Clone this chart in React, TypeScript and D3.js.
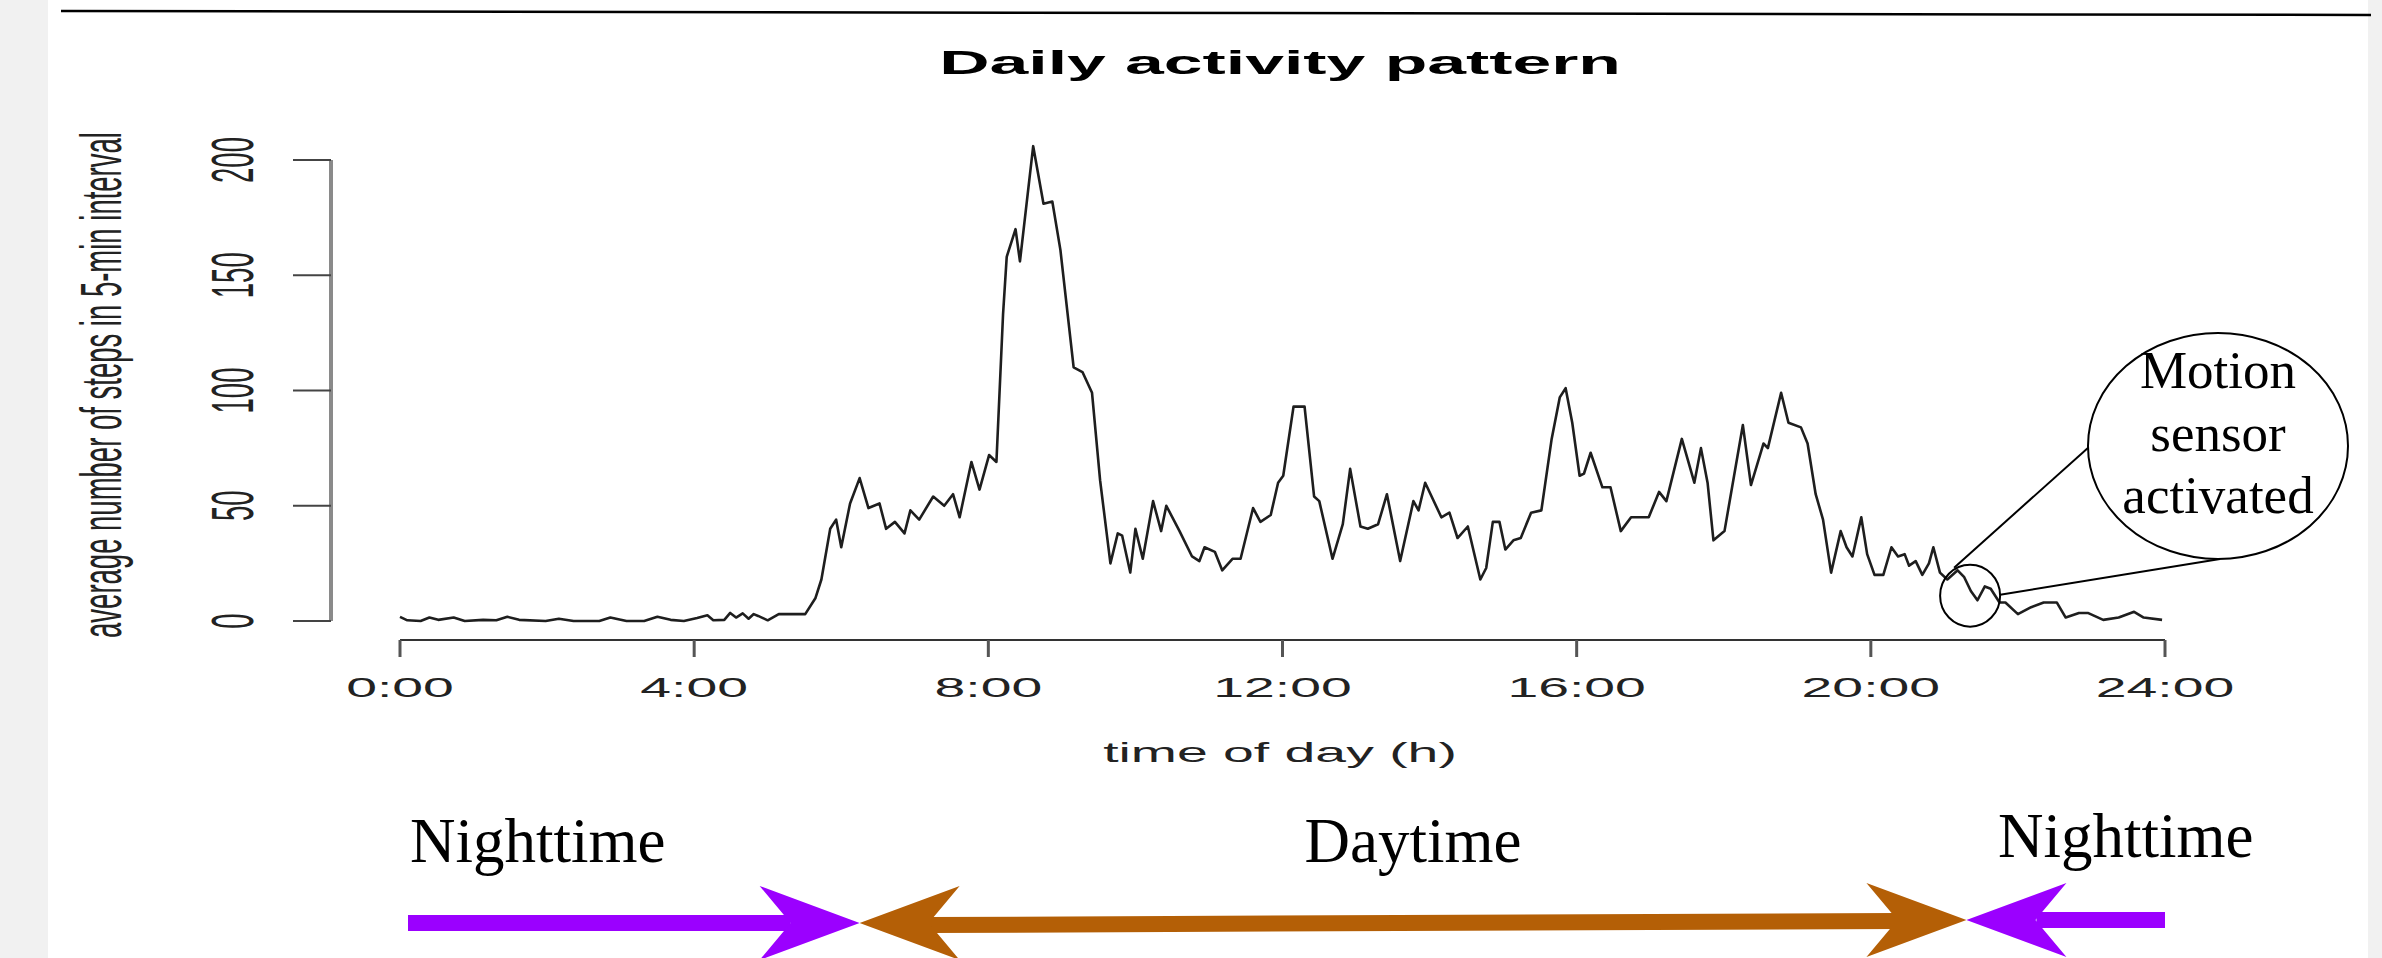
import React from "react";
import * as d3 from "d3";

// time of day (hours) and average steps per 5-min interval
const hours = [
  0, 0.1, 0.28, 0.4, 0.52, 0.73, 0.88, 1.13, 1.31, 1.46, 1.62, 1.98, 2.16, 2.36, 2.71, 2.86, 3.08, 3.32,
  3.5, 3.68, 3.86, 4.04, 4.18, 4.26, 4.41, 4.49, 4.57, 4.66, 4.74, 4.81, 4.87, 5.0, 5.15, 5.33, 5.51,
  5.65, 5.73, 5.85, 5.93, 6.0, 6.12, 6.25, 6.37, 6.52, 6.61, 6.73, 6.86, 6.94, 7.06, 7.25, 7.4, 7.52,
  7.61, 7.77, 7.88, 8.01, 8.11, 8.2, 8.25, 8.37, 8.43, 8.61, 8.75, 8.87, 8.98, 9.16, 9.28, 9.41, 9.52,
  9.66, 9.76, 9.82, 9.93, 10.0, 10.1, 10.24, 10.35, 10.42, 10.6, 10.77, 10.87, 10.94, 11.08, 11.18,
  11.32, 11.43, 11.6, 11.7, 11.84, 11.94, 12.01, 12.15, 12.3, 12.43, 12.5, 12.68, 12.82, 12.92, 13.06,
  13.16, 13.3, 13.42, 13.6, 13.78, 13.85, 13.94, 14.16, 14.27, 14.38, 14.52, 14.69, 14.77, 14.86,
  14.95, 15.03, 15.14, 15.24, 15.38, 15.52, 15.66, 15.77, 15.85, 15.94, 16.04, 16.1, 16.19, 16.35,
  16.46, 16.6, 16.74, 16.98, 17.12, 17.22, 17.43, 17.6, 17.69, 17.78, 17.86, 18.01, 18.26, 18.37,
  18.54, 18.6, 18.78, 18.88, 19.05, 19.14, 19.25, 19.35, 19.46, 19.59, 19.67, 19.75, 19.87, 19.95,
  20.05, 20.17, 20.28, 20.37, 20.46, 20.52, 20.61, 20.7, 20.79, 20.85, 20.94, 21.04, 21.18, 21.27,
  21.36, 21.45, 21.55, 21.63, 21.75, 21.83, 22.0, 22.18, 22.35, 22.53, 22.65, 22.83, 22.95, 23.16,
  23.37, 23.58, 23.71, 23.96,
];
const steps = [
  1.8, 0.3, 0, 1.5, 0.5, 1.5, 0, 0.5, 0.3, 1.8, 0.5, 0, 1, 0, 0, 1.5, 0, 0,
  1.8, 0.5, 0, 1.3, 2.5, 0.3, 0.5, 3.5, 1.5, 3.3, 1, 3, 2.2, 0.3, 3, 3, 3,
  10, 18, 40, 44, 32, 51, 62, 49, 51, 40, 43, 38, 48, 44, 54, 50, 55,
  45, 69, 57, 72, 69, 133, 158, 170, 156, 206, 181, 182, 161, 110, 108, 99, 61,
  25, 38, 37, 21, 40, 27, 52, 39, 50, 39, 28, 26, 32, 30, 22,
  27, 27, 49, 43, 46, 60, 63, 93, 93, 54, 52, 27, 42, 66, 41,
  40, 42, 55, 26, 52, 48, 60, 45, 47, 36, 41, 18, 23, 43,
  43, 31, 35, 36, 47, 48, 79, 97, 101, 86, 63, 64, 73, 58,
  58, 39, 45, 45, 56, 52, 79, 60, 75, 60, 35, 39, 85, 59,
  77, 75, 99, 86, 84, 77, 55, 44, 21, 39, 32, 28, 45, 29,
  20, 20, 32, 28, 29, 24, 26, 20, 25, 32, 21, 18, 22, 19,
  13, 9, 15, 14, 8, 8, 3, 6, 8, 8, 1.5, 3.5, 3.5, 0.5,
  1.5, 4, 1.5, 0.5,
];

const xTicks = [0, 4, 8, 12, 16, 20, 24];
const xTickLabels = ["0:00", "4:00", "8:00", "12:00", "16:00", "20:00", "24:00"];
const yTicks = [0, 50, 100, 150, 200];

// nighttime / daytime boundaries (hours)
const periodBounds = [0, 6.25, 21.3, 24];
const periodLabels = ["Nighttime", "Daytime", "Nighttime"];
const periodColors = ["#9b00ff", "#b45f06", "#9b00ff"];

const sensorTime = 21.35;
const sensorLevel = 11;
const sensorLines = ["Motion", "sensor", "activated"];

const W = 2382;
const H = 958;
const SX = 2.05; // the R plot is stretched horizontally
const sans = "'Liberation Sans', Arial, Helvetica, sans-serif";
const serif = "'Liberation Serif', 'Times New Roman', serif";

export default function App() {
  const x = d3.scaleLinear().domain([0, 24]).range([400, 2165]);
  const y = d3.scaleLinear().domain([0, 200]).range([621, 160]);

  const data = hours.map((h, i) => [h, steps[i]] as [number, number]);
  const line = d3.line<[number, number]>().x((d) => x(d[0])).y((d) => y(d[1]));

  const axisY = 640;
  const yAxisX = 331;

  // arrow heads: tip, barb, notch, barb
  const head = (tip: number, cy: number, dir: number) => {
    const L = 100, N = 69, hw = 37;
    return [
      [tip, cy],
      [tip - dir * L, cy - hw],
      [tip - dir * N, cy],
      [tip - dir * L, cy + hw],
    ]
      .map((p) => p.join(","))
      .join(" ");
  };

  const xa = x(periodBounds[0]) + 8;
  const xb = x(periodBounds[1]);
  const xc = x(periodBounds[2]);
  const xd = x(periodBounds[3]);

  const sx = x(sensorTime);
  const sy = y(sensorLevel);
  const bigCx = 2218, bigCy = 446, bigRx = 130, bigRy = 113;

  return (
    <div style={{ position: "absolute", left: 0, top: 0 }}>
      <svg width={W} height={H} style={{ display: "block", background: "#fff" }}>
        <rect x={0} y={0} width={48} height={H} fill="#f1f1f1" />
        <rect x={2368} y={0} width={W - 2368} height={H} fill="#f1f1f1" />
        <line x1={61} y1={11} x2={2371} y2={15} stroke="#000" strokeWidth={2.5} />

        {/* title */}
        <text
          transform={`translate(1280,74) scale(${SX},1)`}
          textAnchor="middle"
          fontFamily={sans}
          fontWeight="bold"
          fontSize={34}
          fill="#000"
        >
          Daily activity pattern
        </text>

        {/* y axis */}
        <line x1={yAxisX} y1={y(0)} x2={yAxisX} y2={y(200)} stroke="#8a8a8a" strokeWidth={4} />
        {yTicks.map((t) => (
          <g key={t}>
            <line x1={293} x2={yAxisX} y1={y(t)} y2={y(t)} stroke="#444" strokeWidth={2} />
            <text
              transform={`translate(253,${y(t)}) scale(2.15,1) rotate(-90)`}
              textAnchor="middle"
              fontFamily={sans}
              fontSize={27.5}
              fill="#222"
            >
              {t}
            </text>
          </g>
        ))}
        <text
          transform={`translate(121,385) scale(2.1,1) rotate(-90)`}
          textAnchor="middle"
          fontFamily={sans}
          fontSize={27.5}
          fill="#222"
        >
          average number of steps in 5-min interval
        </text>

        {/* x axis */}
        <line x1={x(0)} x2={x(24)} y1={axisY} y2={axisY} stroke="#333" strokeWidth={2} />
        {xTicks.map((t, i) => (
          <g key={t}>
            <line x1={x(t)} x2={x(t)} y1={axisY} y2={657} stroke="#555" strokeWidth={3} />
            <text
              transform={`translate(${x(t)},697) scale(${SX},1)`}
              textAnchor="middle"
              fontFamily={sans}
              fontSize={27}
              fill="#222"
            >
              {xTickLabels[i]}
            </text>
          </g>
        ))}
        <text
          transform={`translate(1280,762) scale(${SX},1)`}
          textAnchor="middle"
          fontFamily={sans}
          fontSize={27}
          fill="#222"
        >
          time of day (h)
        </text>

        {/* activity line */}
        <path d={line(data) || ""} fill="none" stroke="#1e1e1e" strokeWidth={2.6} strokeLinejoin="round" />

        {/* motion sensor callout */}
        <ellipse cx={sx} cy={sy} rx={30} ry={31} fill="none" stroke="#000" strokeWidth={2} />
        <line x1={sx - 16} y1={sy - 28} x2={bigCx - bigRx + 1} y2={bigCy + 1} stroke="#000" strokeWidth={2} />
        <line x1={sx + 30} y1={sy - 1} x2={bigCx + 2} y2={bigCy + bigRy} stroke="#000" strokeWidth={2} />
        <ellipse cx={bigCx} cy={bigCy} rx={bigRx} ry={bigRy} fill="#fff" stroke="#000" strokeWidth={2} />
        {sensorLines.map((s, i) => (
          <text
            key={s}
            x={bigCx}
            y={[388, 451, 513][i]}
            textAnchor="middle"
            fontFamily={serif}
            fontSize={53}
            fill="#000"
          >
            {s}
          </text>
        ))}

        {/* period labels */}
        <text x={410} y={862} fontFamily={serif} fontSize={63} fill="#000">
          {periodLabels[0]}
        </text>
        <text x={(xb + xc) / 2} y={862} textAnchor="middle" fontFamily={serif} fontSize={63} fill="#000">
          {periodLabels[1]}
        </text>
        <text x={1998} y={857} fontFamily={serif} fontSize={63} fill="#000">
          {periodLabels[2]}
        </text>

        {/* period arrows */}
        <line x1={xa} x2={xb - 69} y1={923} y2={923} stroke={periodColors[0]} strokeWidth={16} />
        <polygon points={head(xb, 923, 1)} fill={periodColors[0]} />
        <line x1={xb + 68} x2={xc - 68} y1={925} y2={921} stroke={periodColors[1]} strokeWidth={16} />
        <polygon points={head(xb, 923, -1)} fill={periodColors[1]} />
        <polygon points={head(xc, 920, 1)} fill={periodColors[1]} />
        <line x1={xc + 70} x2={xd} y1={920} y2={920} stroke={periodColors[2]} strokeWidth={16} />
        <polygon points={head(xc, 920, -1)} fill={periodColors[2]} />
      </svg>
    </div>
  );
}
